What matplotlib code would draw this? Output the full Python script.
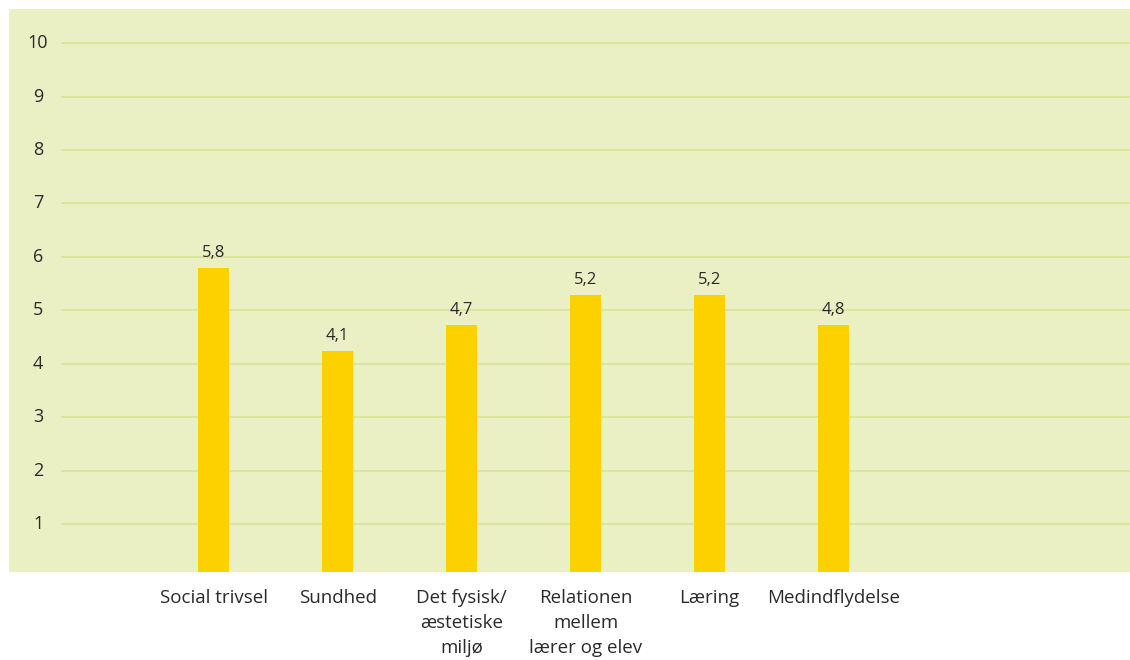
import matplotlib.pyplot as plt
import matplotlib.transforms as mtransforms

# data
categories = ['Social trivsel', 'Sundhed', 'Det fysisk/\næstetiske\nmiljø',
              'Relationen\nmellem\nlærer og elev', 'Læring', 'Medindflydelse']
values = [5.79, 4.24, 4.73, 5.29, 5.29, 4.73]
value_labels = ['5,8', '4,1', '4,7', '5,2', '5,2', '4,8']
yticks = [1, 2, 3, 4, 5, 6, 7, 8, 9, 10]

plt.rcParams['font.family'] = ['Open Sans', 'DejaVu Sans']

bg = '#EAF0C4'
grid_col = '#D9E596'
bar_col = '#FDD000'
text_col = '#2a2a2a'

fig = plt.figure(figsize=(11.3, 6.6), dpi=100)
ax = fig.add_axes([9 / 1130, 88 / 660, 1121 / 1130, 563 / 660])
ax.set_facecolor(bg)

x = list(range(len(categories)))
ax.set_xlim(-1.65, 7.39)
ax.set_ylim(0.1, 10.64)

for y in yticks:
    ax.axhline(y, xmin=0.047, xmax=1, color=grid_col, lw=1.3, zorder=1)

ax.bar(x, values, width=0.25, color=bar_col, zorder=2)

for xi, v, lab in zip(x, values, value_labels):
    ax.text(xi, v + 0.13, lab, ha='center', va='bottom', fontsize=12, color=text_col)

trans = mtransforms.blended_transform_factory(ax.transAxes, ax.transData)
for y in yticks:
    ax.text(0.026, y, str(y), transform=trans, ha='center', va='center',
            fontsize=13, color=text_col)

ax.set_xticks(x)
ax.set_xticklabels(categories, fontsize=13.5, color=text_col, linespacing=1.5)
ax.tick_params(axis='x', length=0, pad=12)
ax.set_yticks([])
for s in ax.spines.values():
    s.set_visible(False)

fig.savefig('out.png', dpi=100, facecolor='white')
